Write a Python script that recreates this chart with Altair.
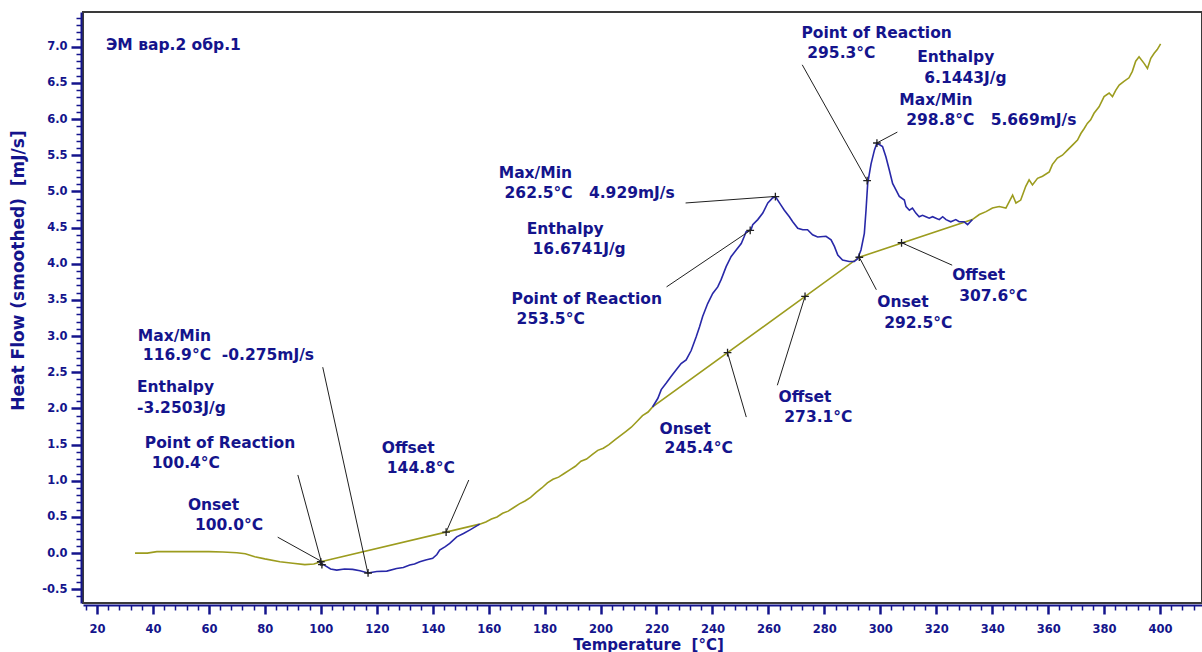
import altair as alt
import pandas as pd

NAVY = "#14148c"
BLUE = "#2828a8"
OLIVE = "#9c9c1e"
INK = "#202020"
FONT = "DejaVu Sans"
SP = "\u00a0"

# Heat-flow trace outside the peaks, with straight integration baselines
# drawn under each peak (temperature in °C, heat flow in mJ/s)
trace_t = [33.6, 38.0, 41.4, 50.0, 60.0, 65.0, 70.0, 73.0, 76.4, 80.0, 85.4, 90.0,
           94.3, 97.5, 100.0, 156.8,
           159.0, 161.0, 163.0, 165.0, 167.0, 169.0, 171.0, 173.0, 175.0, 177.0,
           179.0, 181.0, 183.0, 185.0, 187.0, 189.0, 191.0, 193.0, 195.0, 197.0,
           199.0, 201.0, 203.0, 205.0, 207.0, 209.0, 211.0, 213.0, 215.0, 217.0,
           218.6, 292.5, 332.9,
           335.4, 337.8, 340.1, 342.5, 344.9, 346.1, 347.3, 348.5, 350.2, 352.0,
           353.2, 354.4, 356.2, 358.0, 360.4, 361.5, 363.3, 365.1, 366.9, 368.7,
           370.5, 371.7, 372.9, 374.0, 375.2, 376.4, 378.2, 380.0, 381.8, 383.0,
           384.2, 385.4, 387.1, 388.9, 390.1, 391.3, 392.5, 394.3, 395.5, 396.7,
           397.9, 399.0, 400.2]
trace_hf = [0.00, 0.00, 0.02, 0.02, 0.02, 0.015, 0.005, -0.01, -0.05, -0.08, -0.12, -0.14,
            -0.16, -0.15, -0.12, 0.40,
            0.43, 0.47, 0.50, 0.55, 0.58, 0.63, 0.68, 0.72, 0.77, 0.84,
            0.90, 0.97, 1.02, 1.05, 1.10, 1.15, 1.20, 1.27, 1.30, 1.36,
            1.42, 1.45, 1.50, 1.56, 1.62, 1.68, 1.74, 1.82, 1.90, 1.95,
            2.02, 4.09, 4.61,
            4.68, 4.72, 4.77, 4.79, 4.77, 4.86, 4.95, 4.84, 4.88, 5.07,
            5.16, 5.09, 5.18, 5.21, 5.27, 5.37, 5.46, 5.50, 5.57, 5.64,
            5.71, 5.80, 5.87, 5.94, 5.99, 6.08, 6.17, 6.31, 6.36, 6.31,
            6.40, 6.47, 6.52, 6.57, 6.66, 6.80, 6.86, 6.77, 6.70, 6.84,
            6.91, 6.96, 7.04]

# First peak (endotherm, minimum at 116.9 °C)
peak1_t = [99.5, 101.4, 103.5, 105.7, 108.5, 111.4, 114.0, 116.9, 120.0, 123.6,
           127.1, 129.5, 131.8, 133.5, 135.4, 137.5, 140.0, 141.5, 142.5, 144.5,
           146.1, 148.6, 151.0, 153.2, 156.8]
peak1_hf = [-0.13, -0.17, -0.22, -0.235, -0.22, -0.225, -0.245, -0.275, -0.255, -0.249,
            -0.212, -0.20, -0.166, -0.15, -0.12, -0.095, -0.073, -0.02, 0.041, 0.09,
            0.134, 0.225, 0.27, 0.318, 0.40]

# Second and third peaks (exotherms at 262.5 and 298.8 °C)
peak23_t = [218.6, 220.5, 221.7, 223.5, 225.2, 227.0, 228.8, 230.6, 232.4, 234.2,
            235.4, 236.5, 238.3, 240.1, 241.9, 243.1, 244.9, 246.7, 248.5, 250.3,
            251.4, 252.0, 253.8, 254.4, 256.2, 258.0, 259.8, 261.5, 262.5, 264.5,
            265.7, 267.5, 268.7, 270.5, 272.3, 274.0, 275.8, 277.6, 280.6, 282.4,
            283.6, 284.8, 286.5, 288.9, 290.7, 291.9, 293.1, 294.3, 294.9, 295.5,
            296.7, 297.9, 298.8, 300.8, 302.0, 303.2, 304.4, 305.6, 306.8, 308.6,
            309.2, 310.4, 311.5, 312.7, 313.9, 315.1, 316.3, 317.5, 318.7, 319.9,
            321.1, 322.3, 323.5, 325.2, 327.0, 328.2, 330.0, 331.2, 332.9]
peak23_hf = [2.02, 2.14, 2.26, 2.35, 2.44, 2.53, 2.62, 2.67, 2.80, 2.99,
             3.13, 3.27, 3.45, 3.59, 3.68, 3.78, 3.96, 4.10, 4.19, 4.28,
             4.38, 4.44, 4.47, 4.54, 4.61, 4.70, 4.84, 4.91, 4.929, 4.81,
             4.74, 4.65, 4.58, 4.49, 4.47, 4.47, 4.40, 4.37, 4.38, 4.33,
             4.24, 4.12, 4.05, 4.03, 4.03, 4.07, 4.19, 4.42, 4.74, 5.11,
             5.38, 5.57, 5.669, 5.62, 5.48, 5.30, 5.11, 5.02, 4.93, 4.88,
             4.79, 4.74, 4.77, 4.70, 4.65, 4.67, 4.65, 4.63, 4.65, 4.63,
             4.61, 4.65, 4.61, 4.58, 4.61, 4.58, 4.58, 4.54, 4.61]

# Evaluated points (onset, point of reaction, extremum, offset)
point_t = [100.0, 100.4, 116.9, 144.8, 245.4, 253.5, 262.5, 273.1, 292.5, 295.3,
           298.8, 307.6]
point_hf = [-0.12, -0.16, -0.275, 0.29, 2.77, 4.46, 4.929, 3.55, 4.09, 5.15,
            5.669, 4.29]

# Annotation texts
note_text = [
    "ЭМ вар.2 обр.1",
    "Max/Min", "116.9°C" + SP + SP + "-0.275mJ/s",
    "Enthalpy", "-3.2503J/g",
    "Point of Reaction", "100.4°C",
    "Onset", "100.0°C",
    "Offset", "144.8°C",
    "Max/Min", "262.5°C" + SP * 3 + "4.929mJ/s",
    "Enthalpy", "16.6741J/g",
    "Point of Reaction", "253.5°C",
    "Onset", "245.4°C",
    "Offset", "273.1°C",
    "Onset", "292.5°C",
    "Point of Reaction", "295.3°C",
    "Enthalpy", "6.1443J/g",
    "Max/Min", "298.8°C" + SP * 3 + "5.669mJ/s",
    "Offset", "307.6°C",
]
note_t = [23.2,
          34.6, 36.4, 34.3, 34.3, 37.1, 39.6, 52.5, 55.0, 121.8, 123.6,
          163.6, 165.7, 173.6, 175.7, 168.2, 170.0, 221.1, 222.9, 263.6, 265.7,
          298.9, 301.4,
          271.8, 273.9, 313.2, 315.7, 306.8, 309.3, 325.7, 328.2]
note_hf = [7.03,
           3.00, 2.74, 2.30, 2.01, 1.52, 1.24, 0.66, 0.39, 1.45, 1.18,
           5.26, 4.98, 4.48, 4.20, 3.51, 3.24, 1.72, 1.45, 2.16, 1.88,
           3.47, 3.18,
           7.19, 6.92, 6.86, 6.57, 6.27, 5.99, 3.85, 3.55]

# Leader lines from the texts to the evaluated points
lead_t = [84.6, 91.8, 100.7, 152.9, 230.4, 223.6, 252.1, 263.2, 298.6, 272.1, 306.1, 325.7]
lead_hf = [0.22, 1.08, 2.57, 1.01, 4.84, 3.68, 1.88, 2.32, 3.64, 6.75, 5.82, 3.98]
lead_t2 = [100.0, 100.6, 116.9, 144.8, 262.5, 253.5, 245.4, 273.1, 292.5, 295.3, 298.8, 307.6]
lead_hf2 = [-0.11, -0.18, -0.29, 0.29, 4.93, 4.46, 2.77, 3.55, 4.09, 5.15, 5.67, 4.29]

trace = pd.DataFrame({"t": trace_t, "hf": trace_hf, "i": range(len(trace_t))})
peaks = pd.concat([
    pd.DataFrame({"t": peak1_t, "hf": peak1_hf, "seg": "p1"}),
    pd.DataFrame({"t": peak23_t, "hf": peak23_hf, "seg": "p23"}),
], ignore_index=True)
peaks["i"] = range(len(peaks))
points = pd.DataFrame({"t": point_t, "hf": point_hf})
notes = pd.DataFrame({"t": note_t, "hf": note_hf, "text": note_text})
leads = pd.DataFrame({"t": lead_t, "hf": lead_hf, "t2": lead_t2, "hf2": lead_hf2})

x_scale = alt.Scale(domain=[15, 415], nice=False, zero=False)
y_scale = alt.Scale(domain=[-0.69, 7.48], nice=False, zero=False)

# Major ticks every 20 °C / 0.5 mJ/s, minor ticks every 4 °C / 0.1 mJ/s
x_ticks = list(range(16, 416, 4))
y_ticks = [round(-0.6 + 0.1 * k, 1) for k in range(81)]
y_major = "abs(datum.value * 2 - round(datum.value * 2)) < 0.01"

x_axis = alt.Axis(
    values=x_ticks,
    tickCount=len(x_ticks) + 20,
    title="Temperature" + SP + SP + "[°C]",
    labelExpr="datum.value % 20 === 0 ? datum.label : ''",
    format="d",
    tickSize={"condition": {"test": "datum.value % 20 === 0", "value": 9}, "value": 5},
    tickWidth={"condition": {"test": "datum.value % 20 === 0", "value": 2.5}, "value": 1.5},
    offset=2,
    grid=False,
    domainColor=NAVY, domainWidth=2,
    tickColor=NAVY,
    labelColor=NAVY, labelFont=FONT, labelFontWeight="bold", labelFontSize=11.5,
    labelPadding=9, labelOverlap=False, labelFlush=False,
    titleColor=NAVY, titleFont=FONT, titleFontWeight="bold", titleFontSize=15,
    titleX=565, titleY=44, titleBaseline="alphabetic", titleAlign="center",
)
y_axis = alt.Axis(
    values=y_ticks,
    tickCount=len(y_ticks) + 20,
    title="Heat Flow (smoothed)" + SP + SP + "[mJ/s]",
    labelExpr=y_major + " ? (datum.value < 0 ? '-' : '') + format(abs(datum.value), '.1f') : ''",
    tickSize={"condition": {"test": y_major, "value": 10}, "value": 5},
    tickWidth={"condition": {"test": y_major, "value": 2.5}, "value": 1.5},
    offset=2,
    grid=False,
    domainColor=NAVY, domainWidth=2,
    tickColor=NAVY,
    labelColor=NAVY, labelFont=FONT, labelFontWeight="bold", labelFontSize=11.5,
    labelPadding=4, labelOverlap=False, labelFlush=False,
    titleColor=NAVY, titleFont=FONT, titleFontWeight="bold", titleFontSize=17,
    titleX=-63, titleY=258, titleAngle=270, titleBaseline="middle", titleAlign="center",
)

trace_layer = alt.Chart(trace).mark_line(color=OLIVE, strokeWidth=1.6).encode(
    x=alt.X("t:Q", scale=x_scale, axis=x_axis),
    y=alt.Y("hf:Q", scale=y_scale, axis=y_axis),
    order="i:Q",
)

peak_layer = alt.Chart(peaks).mark_line(color=BLUE, strokeWidth=1.6).encode(
    x="t:Q", y="hf:Q", detail="seg:N", order="i:Q",
)

lead_layer = alt.Chart(leads).mark_rule(color=INK, strokeWidth=1).encode(
    x="t:Q", y="hf:Q", x2="t2:Q", y2="hf2:Q",
)

point_layer = alt.Chart(points).mark_point(
    shape="M-1,0L1,0M0,-1L0,1", size=60, color=INK, strokeWidth=1.3, filled=False, opacity=1,
).encode(x="t:Q", y="hf:Q")

note_layer = alt.Chart(notes).mark_text(
    align="left", baseline="middle", font=FONT, fontWeight="bold", fontSize=15.5, color=NAVY,
).encode(x="t:Q", y="hf:Q", text="text:N")

chart = alt.layer(
    trace_layer, peak_layer, lead_layer, point_layer, note_layer,
).properties(
    width=1119,
    height=591,
    autosize="none",
    padding={"left": 83, "top": 12, "right": 0, "bottom": 49},
    background="white",
).configure_view(
    stroke="#3a3a3a", strokeWidth=2,
)

chart.save("out.html", embed_options={"renderer": "svg", "actions": False})
